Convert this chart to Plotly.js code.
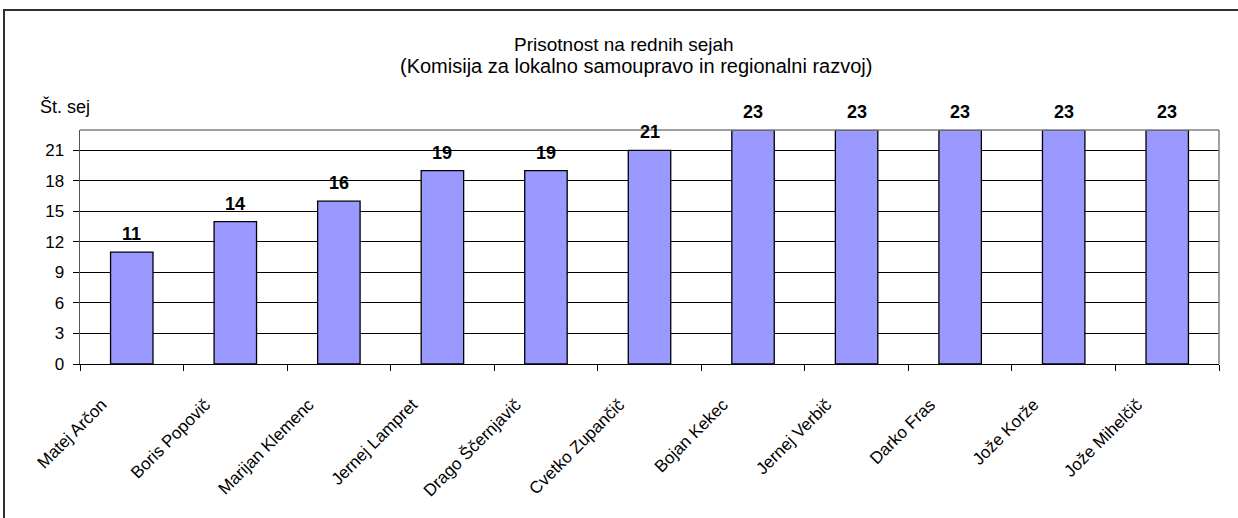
<!DOCTYPE html>
<html>
<head>
<meta charset="utf-8">
<script src="https://cdn.plot.ly/plotly-3.0.1.min.js"></script>
<style>
  html, body { margin: 0; padding: 0; background: #fff; overflow: hidden; }
  #wrap { position: relative; width: 1238px; height: 518px; }
  #frame { position: absolute; left: 3px; top: 9px; width: 1400px; height: 700px;
           border-left: 2px solid #303030; border-top: 2px solid #303030; box-sizing: border-box; pointer-events: none; }
  #chart { position: absolute; left: 0; top: 0; width: 1238px; height: 518px; }
</style>
</head>
<body>
<div id="wrap">
  <div id="chart"></div>
  <div id="frame"></div>
</div>
<script>
const members = ["Matej Arčon", "Boris Popovič", "Marijan Klemenc", "Jernej Lampret", "Drago Ščernjavič",
                 "Cvetko Zupančič", "Bojan Kekec", "Jernej Verbič", "Darko Fras", "Jože Korže", "Jože Mihelčič"];
const sessions = [11, 14, 16, 19, 19, 21, 23, 23, 23, 23, 23];
const yTicks = [0, 3, 6, 9, 12, 15, 18, 21];
const titleLine1 = "Prisotnost na rednih sejah";
const titleLine2 = "(Komisija za lokalno samoupravo in regionalni razvoj)";
const yLabel = "Št. sej";

const FONT = "Liberation Sans, Arial, sans-serif";

const trace = {
  type: "bar",
  x: members,
  y: sessions,
  marker: { color: "#9999FF", line: { color: "#000000", width: 1.3 } },
  hoverinfo: "none"
};

const labelAnnotations = members.map((m, i) => ({
  x: m, y: sessions[i], xref: "x", yref: "y",
  text: "<b>" + sessions[i] + "</b>",
  showarrow: false, yanchor: "bottom", yshift: 6,
  font: { family: FONT, size: 18, color: "#000" }
}));

const W = 1238, L = 80, R = 19;
const pw = W - L - R;
const px = v => (v - L) / pw;

const layout = {
  width: 1238, height: 518,
  margin: { l: L, r: R, t: 130, b: 154 },
  paper_bgcolor: "rgba(0,0,0,0)",
  plot_bgcolor: "#ffffff",
  font: { family: FONT, size: 16, color: "#000" },
  showlegend: false,
  bargap: 0.59,
  xaxis: {
    type: "category",
    tickangle: -45,
    ticks: "outside", ticklen: 6, tickcolor: "#000", tickwidth: 1,
    tickson: "boundaries",
    ticklabelshift: -30,
    ticklabelstandoff: 23,
    showline: true, linecolor: "#000", linewidth: 1,
    showgrid: false,
    tickfont: { family: FONT, size: 17, color: "#000" },
    fixedrange: true
  },
  yaxis: {
    range: [0, 23],
    tickvals: yTicks,
    ticktext: yTicks.map(String),
    ticks: "outside", ticklen: 6, tickcolor: "#000", tickwidth: 1,
    ticklabelstandoff: 5,
    showline: true, linecolor: "#555", linewidth: 1.5,
    showgrid: true, gridcolor: "#000", gridwidth: 1,
    zeroline: true, zerolinecolor: "#000", zerolinewidth: 1,
    tickfont: { family: FONT, size: 17, color: "#000" },
    fixedrange: true
  },
  shapes: [
    { type: "line", xref: "paper", yref: "paper", x0: 0, x1: 1, y0: 1, y1: 1, line: { color: "#808080", width: 1.5 } },
    { type: "line", xref: "paper", yref: "paper", x0: 1, x1: 1, y0: 0, y1: 1, line: { color: "#808080", width: 1.5 } }
  ],
  annotations: [
    { xref: "paper", yref: "paper", x: px(624), y: 1, yshift: 86, yanchor: "middle", showarrow: false,
      text: titleLine1, font: { family: FONT, size: 19, color: "#000" } },
    { xref: "paper", yref: "paper", x: px(636), y: 1, yshift: 64, yanchor: "middle", showarrow: false,
      text: titleLine2, font: { family: FONT, size: 20, color: "#000" } },
    { xref: "paper", yref: "paper", x: px(38), xanchor: "left", y: 1, yshift: 24, yanchor: "middle", showarrow: false,
      text: yLabel, font: { family: FONT, size: 18, color: "#000" } }
  ].concat(labelAnnotations)
};

Plotly.newPlot("chart", [trace], layout, { displayModeBar: false, staticPlot: true });
</script>
</body>
</html>
